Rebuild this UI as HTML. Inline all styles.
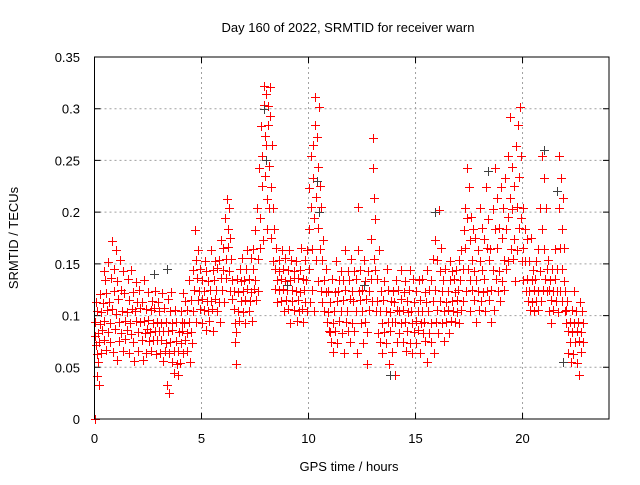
<!DOCTYPE html>
<html><head><meta charset="utf-8"><style>
body{margin:0;background:#fff;font-family:"Liberation Sans",sans-serif}
</style></head><body>
<svg id="c" width="640" height="480" xmlns="http://www.w3.org/2000/svg" font-family="Liberation Sans, sans-serif" font-size="13">
<rect width="640" height="480" fill="#fff"/>
<text x="348" y="32" text-anchor="middle">Day 160 of 2022, SRMTID for receiver warn</text>
<text x="349" y="471" text-anchor="middle">GPS time / hours</text>
<text transform="translate(18,238) rotate(-90)" text-anchor="middle">SRMTID / TECUs</text>
<g id="grid"></g><g id="ticks"></g><g id="marks"></g>
<rect x="94.5" y="57" width="514.5" height="362" fill="none" stroke="#000" stroke-width="1"/>
</svg>
<script>
const xTicks=[0,5,10,15,20];
const yTicks=[0,0.05,0.1,0.15,0.2,0.25,0.3,0.35];
const yTickLabels=["0","0.05","0.1","0.15","0.2","0.25","0.3","0.35"];
const hours=[0.0,0.1,0.2,0.3,0.4,0.5,0.6,0.7,0.8,0.9,1.0,1.1,1.2,1.3,1.4,1.5,1.6,1.7,1.8,1.9,2.0,2.1,2.2,2.3,2.4,2.5,2.6,2.7,2.8,2.9,3.0,3.1,3.2,3.3,3.4,3.5,3.6,3.7,3.8,3.9,4.0,4.1,4.2,4.3,4.4,4.5,4.6,4.7,4.8,4.9,5.0,5.1,5.2,5.3,5.4,5.5,5.6,5.7,5.8,5.9,6.0,6.1,6.2,6.3,6.4,6.5,6.6,6.7,6.8,6.9,7.0,7.1,7.2,7.3,7.4,7.5,7.6,7.7,7.8,7.9,8.0,8.1,8.2,8.3,8.4,8.5,8.6,8.7,8.8,8.9,9.0,9.1,9.2,9.3,9.4,9.5,9.6,9.7,9.8,9.9,10.0,10.1,10.2,10.3,10.4,10.5,10.6,10.7,10.8,10.9,11.0,11.1,11.2,11.3,11.4,11.5,11.6,11.7,11.8,11.9,12.0,12.1,12.2,12.3,12.4,12.5,12.6,12.7,12.8,12.9,13.0,13.1,13.2,13.3,13.4,13.5,13.6,13.7,13.8,13.9,14.0,14.1,14.2,14.3,14.4,14.5,14.6,14.7,14.8,14.9,15.0,15.1,15.2,15.3,15.4,15.5,15.6,15.7,15.8,15.9,16.0,16.1,16.2,16.3,16.4,16.5,16.6,16.7,16.8,16.9,17.0,17.1,17.2,17.3,17.4,17.5,17.6,17.7,17.8,17.9,18.0,18.1,18.2,18.3,18.4,18.5,18.6,18.7,18.8,18.9,19.0,19.1,19.2,19.3,19.4,19.5,19.6,19.7,19.8,19.9,20.0,20.1,20.2,20.3,20.4,20.5,20.6,20.7,20.8,20.9,21.0,21.1,21.2,21.3,21.4,21.5,21.6,21.7,21.8,21.9,22.0,22.1,22.2,22.3,22.4,22.5,22.6,22.7,22.8];
const srmtid=[
[0,.08,.094,.072,.113,.063],[.042,.104,.083,.055],[.033,.074,.092,.121],[.064,.103,.086],[.112,.143,.095,.076],[.134,.122,.067],[.105,.084,.152],[.113,.093,.074,.136],[.172,.106,.065],[.145,.124,.087],
[.163,.102,.057,.133],[.116,.075,.094],[.154,.083,.125],[.104,.066,.143],[.122,.095,.077],[.103,.086,.135],[.064,.115,.093],[.144,.082,.106],[.123,.074,.056],[.104,.132,.095],
[.113,.084,.066],[.125,.094,.107],[.076,.113,.057],[.095,.134,.083],[.106,.064,.087],[.123,.096,.075],[.084,.105,.066],[.114,.093,.076],[.107,.124,.085,.063],[.094,.076,.113],
[.085,.104,.064],[.076,.093,.122],[.056,.085,.107],[.066,.094,.073],[.033,.085,.116,.064],[.025,.074,.104,.123],[.055,.093,.086],[.044,.066,.105],[.094,.075,.053],[.066,.043,.084],
[.054,.073,.104,.094],[.085,.064,.122],[.093,.114,.076],[.066,.105,.083],[.134,.094,.055],[.115,.084,.073],[.144,.104,.125],[.183,.154,.094],[.136,.115,.163],[.124,.106,.145],
[.116,.134,.093],[.124,.105,.153],[.143,.086,.114],[.104,.133,.095],[.125,.163,.114],[.106,.144,.085],[.134,.116,.153],[.125,.104,.146],[.154,.113,.094],[.136,.173,.125],
[.165,.144,.113],[.194,.155,.136],[.213,.184,.166,.143],[.204,.175,.124],[.155,.134,.116],[.124,.106,.093,.074],[.053,.084,.135],[.104,.123,.095],[.145,.114,.133],[.156,.124,.103],
[.134,.115,.093],[.145,.126,.163],[.104,.135,.114],[.156,.123,.095],[.164,.145,.126],[.183,.134,.115],[.204,.155,.124],[.243,.194,.165],[.283,.254,.225,.173],[.322,.304,.274,.235],
[.314,.265,.213,.184],[.303,.284,.245,.204],[.321,.293,.224,.175],[.265,.204,.153],[.184,.145,.126],[.165,.134,.113],[.154,.125,.143],[.135,.114,.163],[.145,.126,.104],[.156,.133,.115],
[.125,.144,.106],[.163,.134,.093],[.154,.125,.114],[.136,.105,.143],[.124,.153,.095],[.115,.136,.104],[.144,.123,.165],[.106,.135,.094],[.125,.154,.113],[.134,.104,.163],
[.184,.223,.145,.113],[.254,.205,.164,.125],[.265,.233,.194,.104],[.311,.284,.215,.154],[.273,.244,.185,.133],[.302,.225,.164,.124],[.205,.154,.113],[.173,.134,.104],[.145,.123,.094],[.124,.103,.085],
[.113,.084,.074],[.135,.093,.065],[.104,.085,.123],[.153,.114,.073],[.124,.095,.134],[.143,.104,.083],[.115,.134,.064],[.163,.125,.094],[.104,.143,.085],[.134,.116,.074],
[.155,.124,.093],[.114,.143,.085],[.135,.104,.064],[.205,.163,.124],[.144,.115,.093],[.125,.104,.073],[.154,.133,.094],[.116,.084,.053],[.143,.124,.105],[.174,.135,.114],
[.272,.243,.214,.155],[.193,.144,.104],[.135,.114,.083],[.163,.104,.074],[.124,.093,.064],[.115,.084,.133],[.104,.073,.145],[.125,.094,.053],[.103,.085,.114],[.094,.065,.124],
[.113,.094,.043],[.134,.105,.074],[.125,.083,.104],[.144,.116,.093],[.105,.074,.123],[.133,.094,.066],[.114,.085,.103],[.125,.073,.144],[.104,.064,.093],[.135,.113,.084],
[.124,.095,.073],[.104,.086,.134],[.115,.064,.093],[.135,.104,.083],[.094,.123,.075],[.113,.055,.144],[.104,.083,.125],[.134,.074,.093],[.155,.114,.064],[.173,.125,.094],
[.154,.105,.083],[.202,.143,.114],[.165,.124,.093],[.134,.104,.075],[.145,.113,.094],[.124,.105,.083],[.153,.134,.095],[.114,.143,.104],[.135,.094,.123],[.144,.115,.103],
[.125,.154,.093],[.134,.105,.163],[.145,.114,.183],[.204,.165,.124],[.243,.194,.145],[.224,.173,.134,.104],[.195,.154,.125],[.184,.143,.115],[.175,.134,.094],[.163,.124,.105],
[.204,.153,.114],[.185,.144,.123],[.174,.135,.104],[.224,.165,.124],[.193,.154,.115],[.164,.125,.094],[.203,.144,.105],[.243,.184,.135],[.214,.165,.124],[.185,.143,.114],
[.224,.175,.133],[.204,.154,.125],[.233,.184,.145],[.254,.195,.153],[.292,.214,.164],[.244,.203,.155],[.225,.174,.133],[.264,.205,.163],[.284,.234,.185],[.302,.254,.194,.153],
[.204,.165,.134],[.184,.153,.124],[.174,.135,.114],[.153,.124,.105],[.175,.134,.113],[.144,.125,.104],[.135,.114,.153],[.164,.124,.105],[.204,.143,.114],[.254,.184,.125],
[.233,.164,.135],[.204,.145,.124],[.154,.125,.104],[.134,.115,.093],[.145,.124,.105],[.164,.135,.114],[.145,.124,.103],[.254,.204,.165,.124],[.233,.184,.145,.114],[.214,.165,.133,.104],
[.124,.105,.093],[.114,.085,.064],[.094,.074,.055],[.105,.084,.063],[.124,.093,.074],[.104,.085,.054],[.094,.075,.043],[.113,.084,.065],[.104,.093,.074]];
const grayHours=[2.8,3.4,7.9,8.0,9.0,10.4,10.5,12.6,13.8,15.9,18.4,21.0,21.6,21.9];
const grayVals=[.14,.145,.3,.25,.13,.23,.2,.13,.043,.2,.24,.26,.22,.055];

const X0=94.5,X1=609,XMAX=24.04,Y0=419,Y1=57,YMAX=0.35;
const xs=t=>X0+t/XMAX*(X1-X0);
const ys=v=>Y0-v/YMAX*(Y0-Y1);
const NS="http://www.w3.org/2000/svg";
const grid=document.getElementById('grid'),ticks=document.getElementById('ticks'),marks=document.getElementById('marks');
function mk(tag,attrs,parent){const e=document.createElementNS(NS,tag);for(const k in attrs)e.setAttribute(k,attrs[k]);parent.appendChild(e);return e;}
xTicks.forEach(t=>{const x=xs(t);
 if(t>0){const g=mk('line',{x1:x,x2:x,y1:Y1,y2:Y0,stroke:'#a0a0a0','stroke-dasharray':'2,3'},grid);
 
 }
 const l=mk('path',{d:`M${x},${Y0}v-6M${x},${Y1}v6`,stroke:'#000'},ticks);
 
 
 const tx=mk('text',{x:x,y:443,'text-anchor':'middle'},ticks);tx.textContent=t;
 
 
});
yTicks.forEach((v,i)=>{const y=ys(v);
 if(v>0&&v<YMAX){const g=mk('line',{x1:X0,x2:X1,y1:y,y2:y,stroke:'#a0a0a0','stroke-dasharray':'2,3'},grid);
 
 }
 const l=mk('path',{d:`M${X0},${y}h6M${X1},${y}h-6`,stroke:'#000'},ticks);
 
 
 const tx=mk('text',{x:80,y:y+5,'text-anchor':'end'},ticks);tx.textContent=yTickLabels[i];
 
 
});
function plus(t,v,col){const x=Math.round(xs(t)),y=Math.round(ys(v));
 return mk('path',{d:`M${x-4},${y}h9v1h-9zM${x},${y-4}h1v9h-1z`,fill:col,stroke:'none'},marks);}
hours.forEach((t,i)=>srmtid[i].forEach((v,j)=>{const p=plus(t+j*0.022,v,'#ff0000');
 
 }));
grayHours.forEach((t,i)=>{const p=plus(t,grayVals[i],'#404040');
 
 });
</script>
</body></html>
